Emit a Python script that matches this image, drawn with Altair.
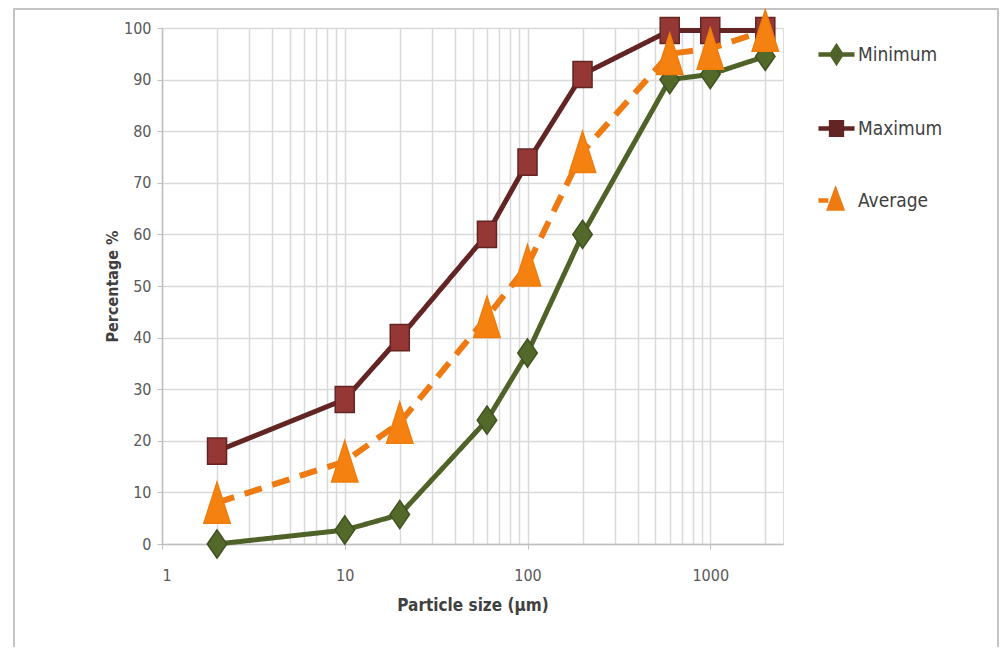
import altair as alt
import pandas as pd

# ---- data ----
particle_size = [2, 10, 20, 60, 100, 200, 600, 1000, 2000]
minimum = [0, 2.7, 5.7, 24, 37, 60, 90, 91, 94.5]
maximum = [18, 28, 40, 60, 74, 91, 99.5, 99.5, 99.5]
average = [8, 16, 23.5, 44, 54, 76, 95, 96, 99.5]
series_names = ["Minimum", "Maximum", "Average"]
x_ticks = [1, 2, 3, 4, 5, 6, 7, 8, 9,
           10, 20, 30, 40, 50, 60, 70, 80, 90,
           100, 200, 300, 400, 500, 600, 700, 800, 900,
           1000, 2000]
y_ticks = [0, 10, 20, 30, 40, 50, 60, 70, 80, 90, 100]

rows = []
for name, vals in zip(series_names, [minimum, maximum, average]):
    for s, v in zip(particle_size, vals):
        rows.append({"size": s, "pct": v, "series": name})
df = pd.DataFrame(rows)
legend_df = pd.DataFrame({"series": series_names})

FONT = "Liberation Sans Narrow, DejaVu Sans Condensed, sans-serif"

line_colors = {"Minimum": "#4f6228", "Maximum": "#632523", "Average": "#ee7a12"}
marker_fill = {"Minimum": "#52692a", "Maximum": "#953735", "Average": "#f58210"}
marker_stroke = {"Minimum": "#3f5220", "Maximum": "#632523", "Average": "#f07c0c"}
marker_shape = {
    "Minimum": "M0,-1 L0.69,0 L0,1 L-0.69,0 Z",
    "Maximum": "M-0.73,-1 L0.73,-1 L0.73,1 L-0.73,1 Z",
    "Average": "M0,-1 L0.64,1 L-0.64,1 Z",
}
marker_size = {"Minimum": 800, "Maximum": 680, "Average": 1700}
line_width = {"Minimum": 5, "Maximum": 5, "Average": 6}
line_dash = {"Minimum": [1, 0], "Maximum": [1, 0], "Average": [18, 11]}

major = "indexof([1, 10, 100, 1000], datum.value) >= 0"

x_enc = alt.X(
    "size:Q",
    scale=alt.Scale(type="log", domain=[1, 2500], nice=False),
    axis=alt.Axis(
        values=x_ticks,
        format="d",
        labelExpr=f"{major} ? datum.label : ''",
        title="Particle size (µm)",
        grid=True,
        gridColor="#d9d9d9",
        gridWidth=1.5,
        tickColor={"condition": {"test": major, "value": "#bfbfbf"}, "value": "transparent"},
        tickSize=5,
        labelPadding=18,
        labelFontSize=16,
        labelColor="#595959",
        labelFont=FONT,
        titleFont=FONT,
        titleFontSize=17,
        titleFontWeight="bold",
        titleColor="#404040",
        titlePadding=14,
        domainColor="#bfbfbf",
        domainWidth=1.5,
    ),
)
y_enc = alt.Y(
    "pct:Q",
    scale=alt.Scale(domain=[0, 100], nice=False),
    axis=alt.Axis(
        values=y_ticks,
        title="Percentage %",
        grid=True,
        gridColor="#d9d9d9",
        gridWidth=1.5,
        tickColor="#bfbfbf",
        tickSize=5,
        labelPadding=6,
        labelFontSize=16,
        labelColor="#595959",
        labelFont=FONT,
        titleFont=FONT,
        titleFontSize=16,
        titleFontWeight="bold",
        titleColor="#404040",
        titlePadding=3,
        domainColor="#bfbfbf",
        domainWidth=1.5,
    ),
)

base = alt.Chart(df)
layers = []

# outer frame
frame = alt.Chart(legend_df.head(1)).mark_rect(
    fill=None, stroke="#c4c4c4", strokeWidth=2
).encode(
    x=alt.value(-148), x2=alt.value(836), y=alt.value(-19), y2=alt.value(660)
)
layers.append(frame)

for name in series_names:
    sub = base.transform_filter(alt.datum.series == name)
    ln = sub.mark_line(
        color=line_colors[name],
        strokeWidth=line_width[name],
        strokeDash=line_dash[name],
        strokeCap="butt",
    ).encode(x=x_enc, y=y_enc)
    pt = sub.mark_point(
        shape=marker_shape[name],
        size=marker_size[name],
        filled=True,
        fill=marker_fill[name],
        stroke=marker_stroke[name],
        strokeWidth=1.5,
        opacity=1,
    ).encode(x=x_enc, y=y_enc)
    layers += [ln, pt]

legend_paths = [
    "M-1,0 L1,0 M0,-0.42 L0.27,0 L0,0.42 L-0.27,0 Z",
    "M-1,0 L1,0 M-0.3,-0.34 L0.3,-0.34 L0.3,0.34 L-0.3,0.34 Z",
    "M-1,0 L-0.45,0 M-0.05,-0.5 L0.3,0.45 L-0.4,0.45 Z",
]
legend_props = dict(
    title=None,
    orient="none",
    legendX=654,
    legendY=6,
    padding=0,
    rowPadding=36,
    symbolSize=1300,
    symbolStrokeWidth=4.5,
    symbolOpacity=1,
    labelFont=FONT,
    labelFontSize=19,
    labelColor="#404040",
    labelOffset=1,
)
col_scale = alt.Scale(domain=series_names, range=[line_colors[n] for n in series_names])
legend_layer = alt.Chart(legend_df).mark_point(opacity=0, filled=True).encode(
    shape=alt.Shape(
        "series:N",
        scale=alt.Scale(domain=series_names, range=legend_paths),
        legend=alt.Legend(**legend_props),
    ),
    color=alt.Color("series:N", scale=col_scale, legend=alt.Legend(**legend_props)),
    stroke=alt.Stroke("series:N", scale=col_scale, legend=alt.Legend(**legend_props)),
)
layers.append(legend_layer)

chart = alt.layer(*layers).properties(
    width=621,
    height=516,
    autosize=alt.AutoSizeParams(type="none"),
    padding={"left": 154, "top": 20, "right": 216, "bottom": 103},
).configure_view(
    stroke="#d9d9d9", strokeWidth=1.5
).configure(background="white")

chart.save("out.html", embed_options={"renderer": "svg", "actions": False})
